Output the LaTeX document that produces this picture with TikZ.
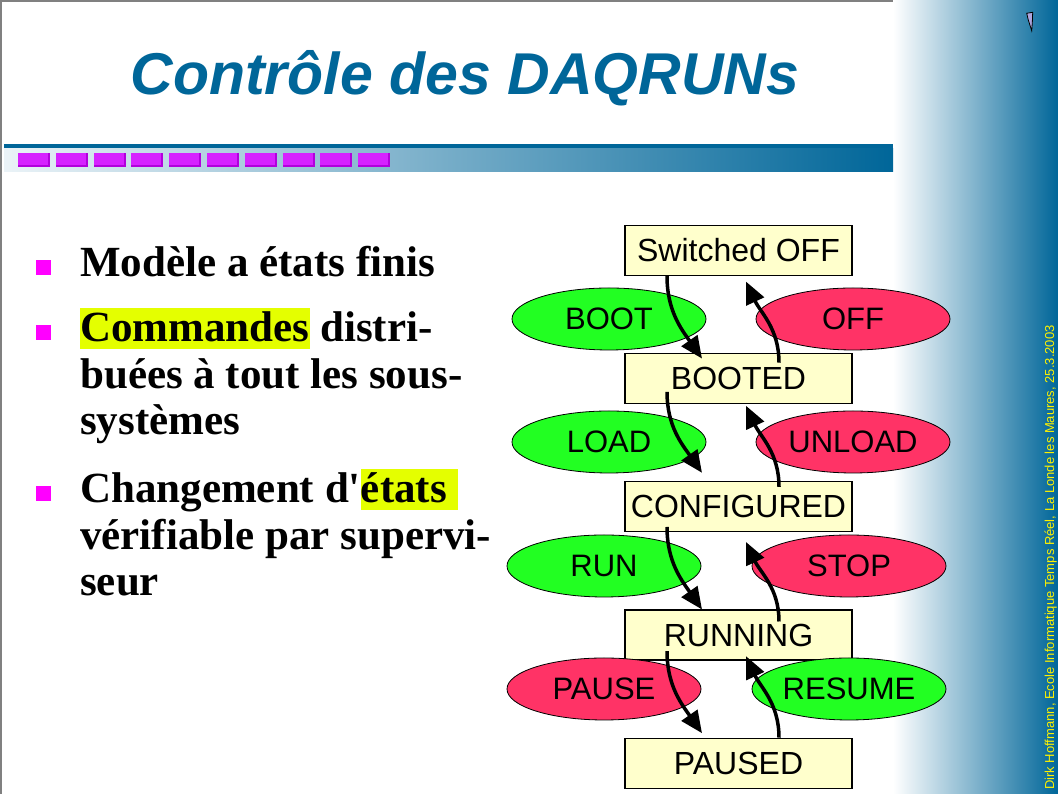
\documentclass[tikz,border=0pt]{standalone}
\usepackage{fontspec}
\setmainfont{Liberation Serif}
\setsansfont{Liberation Sans}
\usetikzlibrary{arrows.meta,positioning,shapes.geometric,calc}
\definecolor{daqblue}{RGB}{0,102,153}
\definecolor{statefill}{RGB}{255,255,204}
\definecolor{cmdgreen}{RGB}{34,255,34}
\definecolor{cmdred}{RGB}{255,51,102}
\definecolor{hlyellow}{RGB}{228,255,0}
\definecolor{bulmag}{RGB}{255,0,255}
\definecolor{barmag}{RGB}{214,34,255}
\definecolor{barmagdk}{RGB}{178,0,220}
\definecolor{framegray}{RGB}{128,128,128}
\definecolor{penlav}{RGB}{176,166,222}
\newcommand{\hilite}[1]{{\setlength{\fboxsep}{0pt}\colorbox{hlyellow}{\rule[-7pt]{0pt}{41pt}#1}}}
\tikzset{
  state/.style={draw, line width=1.2pt, fill=statefill, minimum width=227pt, minimum height=50pt, inner sep=0pt, font=\sffamily\fontsize{32}{32}\selectfont},
  cmd/.style={ellipse, draw, line width=0.8pt, minimum width=194pt, minimum height=62pt, inner sep=0pt, font=\sffamily\fontsize{31}{31}\selectfont},
  go/.style={cmd, fill=cmdgreen},
  halt/.style={cmd, fill=cmdred},
  trans/.style={-{Triangle[length=22pt,width=19pt]}, line width=3.5pt},
  bultext/.style={anchor=base west, inner sep=0pt, font=\bfseries\fontsize{43}{46.5}\selectfont},
  sqbul/.style={fill=bulmag, minimum size=15pt, inner sep=0pt, anchor=south west},
}

\begin{document}
\begin{tikzpicture}[x=1pt,y=1pt]
  \useasboundingbox (0,0) rectangle (1058,794);
  \fill[white] (0,0) rectangle (1058,794);
  % slide frame and side band
  \fill[framegray] (0,0) rectangle (2,794);
  \fill[framegray] (0,792) rectangle (893,794);
  \shade[left color=white, right color=daqblue] (893,0) rectangle (1058,794);
  % title bar
  \fill[daqblue] (4,645) rectangle (893,650);
  \shade[left color=daqblue!8, middle color=daqblue!42, right color=daqblue] (4,622) rectangle (893,645);
  \foreach \i in {0,...,9} {
    \fill[barmagdk] (18+37.8*\i,627) rectangle +(32,14);
    \fill[barmag] (18+37.8*\i,629) rectangle +(30,12);
  }
  \filldraw[fill=penlav, draw=black, line width=0.8pt] (1026.7,780.7) -- (1032.7,781.7) -- (1032.3,771.3) -- (1031.7,763.3) -- (1028.3,774) -- cycle;
  \node[font=\sffamily\bfseries\itshape\fontsize{59}{59}\selectfont, text=daqblue, anchor=base] (title) at (465,699) {Contrôle des DAQRUNs};
  \node[rotate=90, anchor=base west, inner sep=0pt, text=yellow, font=\sffamily\fontsize{13}{13}\selectfont] (credit) at (1054,4) {Dirk Hoffmann, Ecole Informatique Temps Réel, La Londe les Maures, 25.3.2003};

  % bullets
  \node[bultext] (t1) at (80,517) {\parbox[t]{420pt}{Modèle a états finis}};
  \node[bultext] (t2) at (80,452) {\parbox[t]{420pt}{\raggedright\hilite{Commandes} distri-\\buées à tout les sous-\\systèmes}};
  \node[bultext] (t3) at (80,291) {\parbox[t]{420pt}{\raggedright Changement d\textquotesingle\hilite{états\ }\\vérifiable par supervi-\\seur}};
  \node[sqbul] (b1) at ([xshift=-44pt, yshift=2pt]t1.base west) {};
  \node[sqbul] (b2) at ([xshift=-44pt, yshift=2pt]t2.base west) {};
  \node[sqbul] (b3) at ([xshift=-44pt, yshift=2pt]t3.base west) {};

  % states
  \node[state] (soff) at (738.5,543.5) {Switched OFF};
  \node[state, below=77pt of soff] (booted) {BOOTED};
  \node[state, below=77pt of booted] (configured) {CONFIGURED};
  \node[state, below=77pt of configured] (running) {RUNNING};
  \node[state, below=77pt of running] (paused) {PAUSED};

  % commands
  \node[go] (boot) at (609,475) {BOOT};
  \node[halt] (off) at (853,475) {OFF};
  \node[go] (load) at (609,352) {LOAD};
  \node[halt] (unload) at (853,352) {UNLOAD};
  \node[go] (run) at (604,228) {RUN};
  \node[halt] (stop) at (849,228) {STOP};
  \node[halt] (pause) at (604,105) {PAUSE};
  \node[go] (resume) at (849,105) {RESUME};

  % transitions
  \draw[trans] ([xshift=-71.5pt]soff.south) to[out=-90, in=125] ([xshift=-36.5pt, yshift=-5.5pt]booted.north);
  \draw[trans] ([xshift=-71.5pt, yshift=12.5pt]booted.south) to[out=-90, in=125] ([xshift=-36.5pt, yshift=8.5pt]configured.north);
  \draw[trans] ([xshift=-71.5pt, yshift=5.5pt]configured.south) to[out=-90, in=125] ([xshift=-36.5pt]running.north);
  \draw[trans] ([xshift=-71.5pt, yshift=9.5pt]running.south) to[out=-90, in=125] ([xshift=-36.5pt, yshift=4.5pt]paused.north);
  \draw[trans] ([xshift=40.5pt, yshift=-9.5pt]booted.north) to[out=90, in=-65] ([xshift=7.5pt, yshift=-5.5pt]soff.south);
  \draw[trans] ([xshift=40.5pt, yshift=-5.5pt]configured.north) to[out=90, in=-65] ([xshift=7.5pt, yshift=-1.5pt]booted.south);
  \draw[trans] ([xshift=40.5pt, yshift=-12pt]running.north) to[out=90, in=-65] ([xshift=7.5pt, yshift=-9.5pt]configured.south);
  \draw[trans] ([xshift=40.5pt]paused.north) to[out=90, in=-65] ([xshift=7.5pt, yshift=4.5pt]running.south);
\end{tikzpicture}
\end{document}
